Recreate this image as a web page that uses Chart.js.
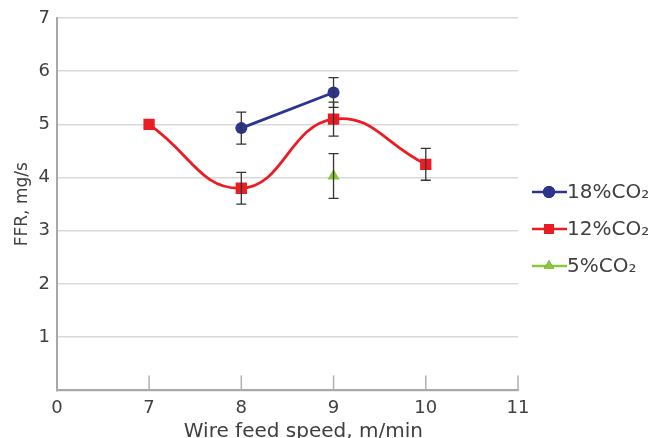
<!DOCTYPE html>
<html>
<head>
<meta charset="utf-8">
<script src="https://cdn.jsdelivr.net/npm/chart.js@4"></script>
<style>
  html, body { margin: 0; padding: 0; background: #fff; }
  #wrap { width: 654px; height: 438px; }
</style>
</head>
<body>
<div id="wrap"><canvas id="ffrChart"></canvas></div>
<script>
// Wire feed speed categories (m/min)
const speedLabels = ['0', '7', '8', '9', '10', '11'];

// FFR (mg/s) per shielding gas
const ffr18 = [null, null, 4.93, 5.6, null, null];
const err18 = [null, null, 0.3, 0.28, null, null];
const ffr12 = [null, 5.0, 3.8, 5.1, 4.25, null];
const err12 = [null, null, 0.3, 0.32, 0.3, null];
const ffr5 = [null, null, null, 4.03, null, null];
const err5 = [null, null, null, 0.42, null, null];

const seriesNames = ['18%CO₂', '12%CO₂', '5%CO₂'];
const seriesColors = ['#2b3590', '#ec1c24', '#8cc63e'];
const seriesMarkers = ['circle', 'rect', 'triangle'];
const textColor = '#404040';

// error bars drawn from the dataset's own scale
const errorBars = {
    id: 'errorBars',
    afterDatasetsDraw(chart) {
        const ctx = chart.ctx;
        const x = chart.scales.x, y = chart.scales.y;
        ctx.save();
        ctx.strokeStyle = '#333';
        ctx.lineWidth = 1.3;
        chart.data.datasets.forEach(ds => {
            ds.errors.forEach((e, i) => {
                if (e == null || ds.data[i] == null) return;
                const px = x.getPixelForValue(i);
                const top = y.getPixelForValue(ds.data[i] + e);
                const bot = y.getPixelForValue(ds.data[i] - e);
                ctx.beginPath();
                ctx.moveTo(px, top); ctx.lineTo(px, bot);
                ctx.moveTo(px - 5, top); ctx.lineTo(px + 5, top);
                ctx.moveTo(px - 5, bot); ctx.lineTo(px + 5, bot);
                ctx.stroke();
            });
        });
        ctx.restore();
    }
};

// short tick marks pointing up into the plot
const innerTicks = {
    id: 'innerTicks',
    afterDraw(chart) {
        const ctx = chart.ctx;
        const x = chart.scales.x;
        const bottom = chart.chartArea.bottom;
        ctx.save();
        ctx.strokeStyle = '#b0b0b0';
        ctx.lineWidth = 1.5;
        for (let i = 1; i < speedLabels.length; i++) {
            const px = x.getPixelForTick(i);
            ctx.beginPath();
            ctx.moveTo(px, bottom);
            ctx.lineTo(px, bottom - 15);
            ctx.stroke();
        }
        ctx.restore();
    }
};

// legend on the right: line with marker, then name
const sideLegend = {
    id: 'sideLegend',
    afterDraw(chart) {
        const ctx = chart.ctx;
        ctx.save();
        ctx.font = '20px "DejaVu Sans"';
        ctx.textBaseline = 'middle';
        seriesNames.forEach((name, i) => {
            const yy = 192 + i * 37;
            const x0 = 532;
            ctx.strokeStyle = seriesColors[i];
            ctx.lineWidth = 2.5;
            ctx.beginPath();
            ctx.moveTo(x0, yy); ctx.lineTo(x0 + 35, yy);
            ctx.stroke();
            Chart.helpers.drawPoint(ctx, {
                pointStyle: seriesMarkers[i],
                radius: i === 1 ? 7 : 6,
                borderWidth: 0
            }, x0 + 17, yy);
            ctx.fillStyle = seriesColors[i];
            ctx.fill();
            ctx.fillStyle = textColor;
            ctx.fillText(name, x0 + 35, yy + 1);
        });
        ctx.restore();
    }
};

function makeSet(i, data, errs, radius, tension) {
    return {
        label: seriesNames[i],
        data: data,
        errors: errs,
        borderColor: seriesColors[i],
        backgroundColor: seriesColors[i],
        pointBackgroundColor: seriesColors[i],
        pointBorderWidth: 0,
        pointStyle: seriesMarkers[i],
        pointRadius: radius,
        borderWidth: 2.8,
        tension: tension,
        spanGaps: false
    };
}

new Chart(document.getElementById('ffrChart'), {
    type: 'line',
    data: {
        labels: speedLabels,
        datasets: [
            makeSet(0, ffr18, err18, 6, 0),
            makeSet(1, ffr12, err12, 8, 0.45),
            makeSet(2, ffr5, err5, 7, 0)
        ]
    },
    options: {
        responsive: true,
        maintainAspectRatio: false,
        animation: false,
        layout: { padding: { left: 8, right: 136, top: 18, bottom: -4 } },
        plugins: {
            legend: { display: false },
            tooltip: { enabled: false }
        },
        scales: {
            x: {
                offset: false,
                grid: { display: false, drawTicks: false },
                border: { display: true, color: '#a8a8a8', width: 2 },
                ticks: {
                    color: textColor,
                    font: { family: 'DejaVu Sans', size: 18 },
                    padding: 7,
                    maxRotation: 0,
                    autoSkip: false
                },
                title: {
                    display: true,
                    text: '     Wire feed speed, m/min',
                    color: textColor,
                    font: { family: 'DejaVu Sans', size: 20, lineHeight: 1 },
                    padding: { top: -4, bottom: 0 }
                }
            },
            y: {
                min: 0,
                max: 7,
                grid: { color: '#d9d9d9', lineWidth: 1.5, drawTicks: false },
                border: { display: true, color: '#a8a8a8', width: 2 },
                ticks: {
                    stepSize: 1,
                    color: textColor,
                    font: { family: 'DejaVu Sans', size: 18 },
                    padding: 7,
                    callback: v => v === 0 ? '' : v
                },
                title: {
                    display: true,
                    text: 'FFR, mg/s',
                    color: textColor,
                    font: { family: 'DejaVu Sans', size: 17 },
                    padding: { top: 4, bottom: -1 }
                }
            }
        }
    },
    plugins: [errorBars, innerTicks, sideLegend]
});
</script>
</body>
</html>
